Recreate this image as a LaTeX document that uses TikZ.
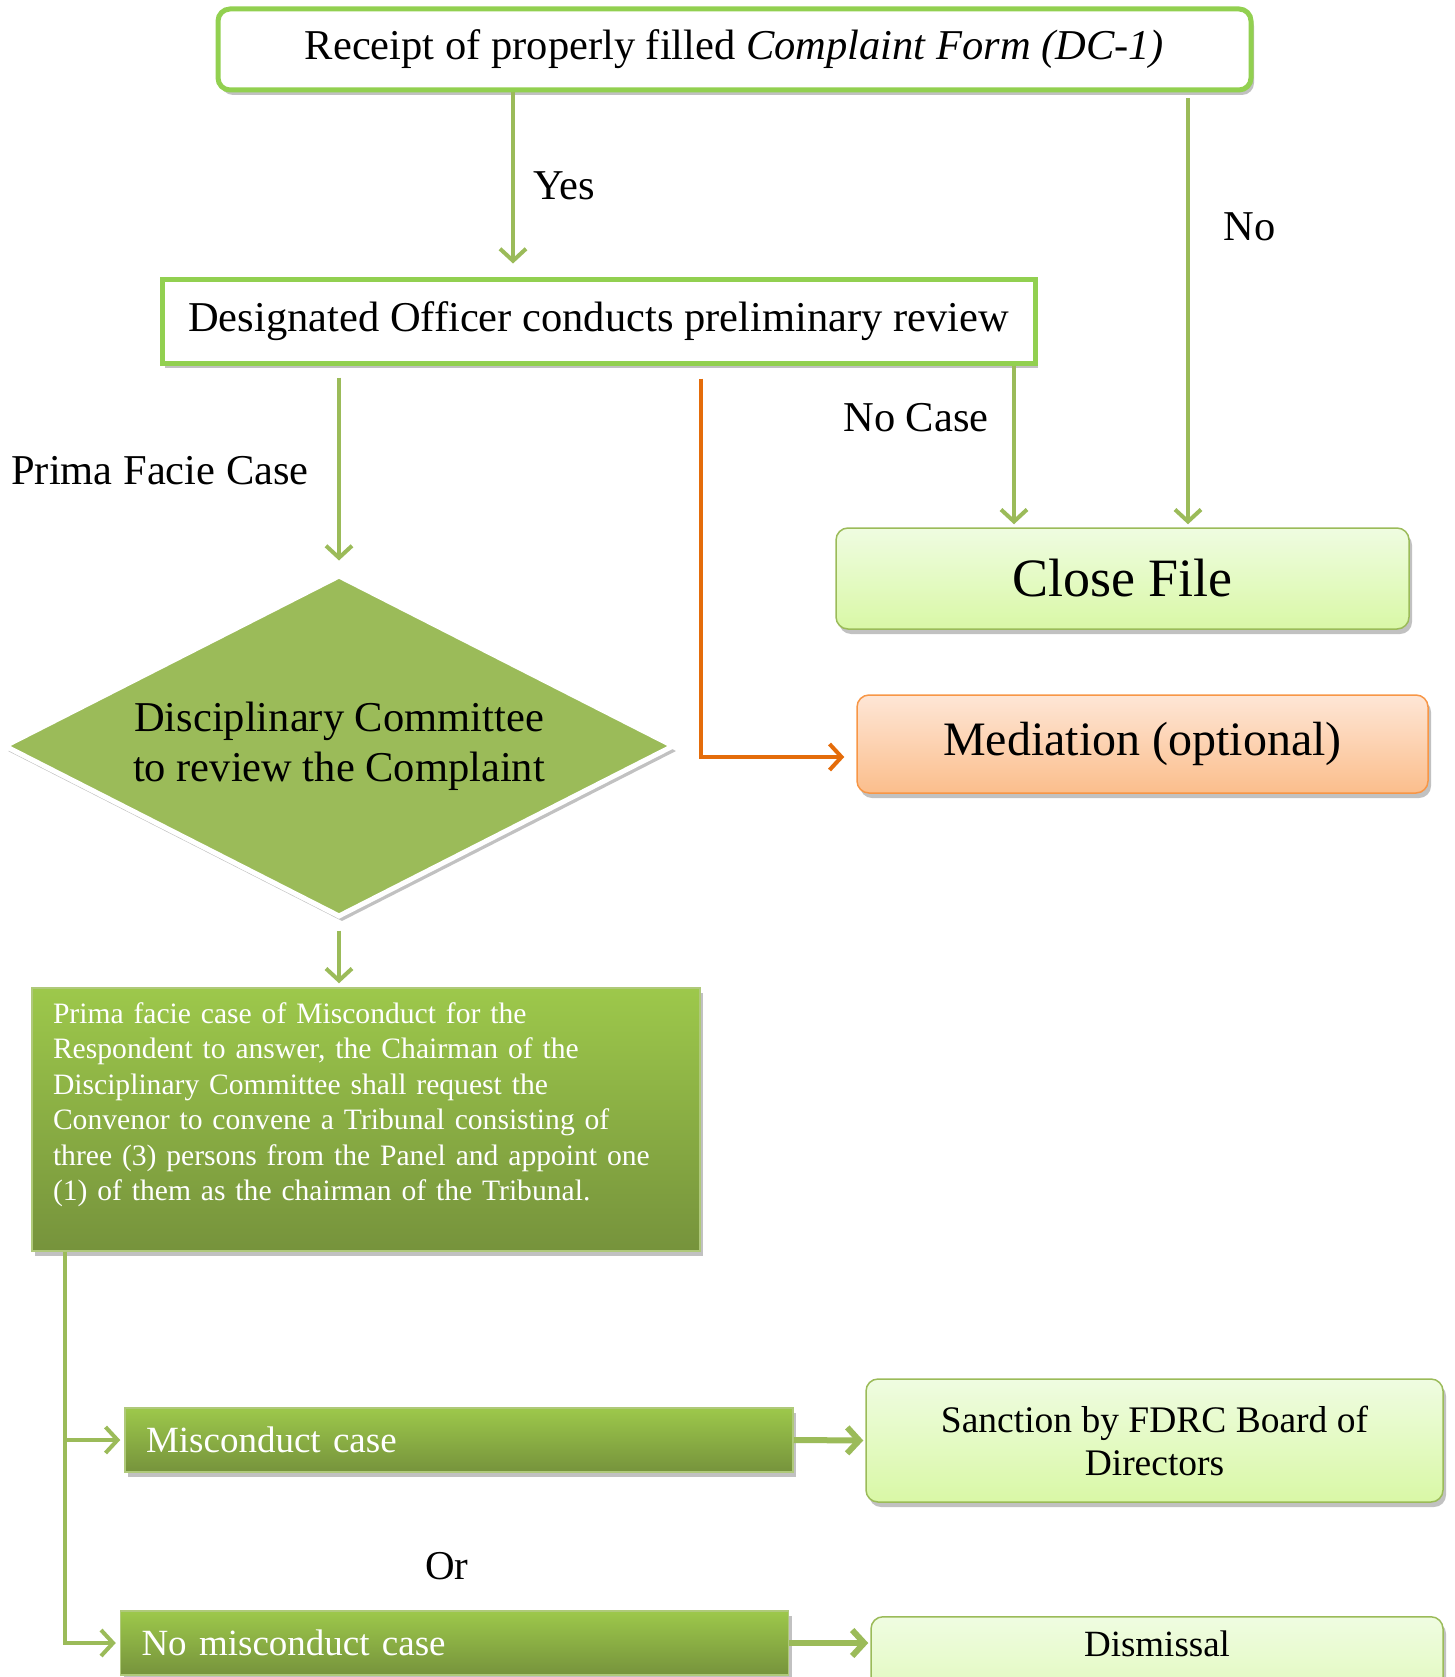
\documentclass[tikz,border=0pt]{standalone}
\usepackage{fontspec}
\setmainfont{Liberation Serif}
\usetikzlibrary{shapes.geometric,arrows.meta,shadows}
\definecolor{lgreen}{HTML}{92D050}
\definecolor{ogreen}{HTML}{9BBB59}
\definecolor{dgreen}{HTML}{76933C}
\definecolor{bgreen}{HTML}{9DC84B}
\definecolor{pale}{HTML}{EFFCE1}
\definecolor{paledk}{HTML}{D9F8A6}
\definecolor{peach}{HTML}{FEE6D6}
\definecolor{peachdk}{HTML}{FBBE8C}
\definecolor{orangeln}{HTML}{E46C0A}
\definecolor{orangebd}{HTML}{F79646}
\begin{document}
\begin{tikzpicture}[x=1pt,y=1pt,
    shad/.style={drop shadow={shadow xshift=3pt,shadow yshift=-5pt,opacity=.35,fill=black!70}},
    topbox/.style={draw=lgreen,line width=5pt,fill=white,shad,inner sep=0pt,font=\fontsize{42.5}{50}\selectfont},
    softbox/.style={draw=ogreen,line width=1.5pt,rounded corners=12pt,top color=pale,bottom color=paledk,shad,inner sep=0pt},
    barbox/.style={draw=ogreen!80,line width=1.5pt,top color=bgreen,bottom color=dgreen,text=white,shad,inner sep=0pt,align=left},
    garrow/.style={ogreen,line width=4pt,-{Straight Barb[length=12pt,width=26pt]}},
    lbl/.style={font=\fontsize{42.5}{50}\selectfont}]
    \useasboundingbox (0,0) rectangle (1454,-1677);
    % boxes
    \node[topbox,rounded corners=12pt,minimum width=1033pt,minimum height=81pt] (receipt) at (734.5,-49.5) {Receipt of properly filled \textit{Complaint Form (DC-1)}};
    \node[topbox,minimum width=873pt,minimum height=83pt] (review) at (598.5,-321.5) {Designated Officer conducts preliminary review};
    \node[softbox,minimum width=573pt,minimum height=101pt,font=\fontsize{54}{62}\selectfont] (closefile) at (1122.5,-578.5) {Close File};
    \node[softbox,draw=orangebd,top color=peach,bottom color=peachdk,minimum width=571pt,minimum height=98pt,font=\fontsize{48}{56}\selectfont] (mediation) at (1142.5,-744) {Mediation (optional)};
    \node[diamond,aspect=1.95,minimum width=670pt,minimum height=342pt,inner sep=0pt,fill=ogreen,draw=white,line width=5pt,shad,align=center,font=\fontsize{42.5}{50}\selectfont] (committee) at (339,-746) {Disciplinary Committee\\to review the Complaint};
    \node[barbox,minimum width=668pt,minimum height=263pt,text width=626pt,font=\fontsize{29.6}{35.5}\selectfont] (prima) at (366,-1119.5) {Prima facie case of Misconduct for the\\Respondent to answer, the Chairman of the\\Disciplinary Committee shall request the\\Convenor to convene a Tribunal consisting of\\three (3) persons from the Panel and appoint one\\(1) of them as the chairman of the Tribunal.\\\rule{0pt}{0pt}};
    \node[barbox,minimum width=668pt,minimum height=64pt,text width=626pt,font=\fontsize{37}{43}\selectfont] (misconduct) at (459,-1440) {Misconduct case};
    \node[barbox,minimum width=668pt,minimum height=64pt,text width=626pt,font=\fontsize{37}{43}\selectfont] (nomisconduct) at (454.5,-1643) {No misconduct case};
    \node[softbox,minimum width=577pt,minimum height=123pt,align=center,font=\fontsize{37.5}{43}\selectfont] (sanction) at (1154.5,-1440.5) {Sanction by FDRC Board of\\Directors};
    \node[softbox,anchor=north,minimum width=572pt,inner ysep=14pt,text depth=80pt,font=\fontsize{37}{43}\selectfont] (dismissal) at (1157,-1616) {Dismissal};
    % labels
    \node[lbl,anchor=west] (yes) at (530,-186) {Yes};
    \node[lbl,anchor=west] (no) at (1220,-227) {No};
    \node[lbl] (nocase) at (916,-418) {No Case};
    \node[lbl] (primafacie) at (160,-471) {Prima Facie Case};
    \node[font=\fontsize{41}{48}\selectfont] (or) at (447,-1566) {Or};
    % arrows
    \draw[garrow,shorten >=14pt] (receipt.south -| 513,0) -- (review.north -| 513,0);
    \draw[garrow,shorten <=6pt,shorten >=3pt] (receipt.south -| 1188,0) -- (closefile.north -| 1188,0);
    \draw[garrow,shorten >=3pt] (review.south -| 1014,0) -- (closefile.north -| 1014,0);
    \draw[garrow,shorten <=12pt,shorten >=12pt] (review.south -| committee.north) -- (committee.north);
    \draw[garrow,shorten <=11pt,shorten >=4pt] (committee.south) -- (prima.north -| committee.south);
    \draw[orangeln,line width=4pt,-{Straight Barb[length=12pt,width=26pt]},shorten <=13pt,shorten >=12pt] (review.south -| 701,0) |- ([yshift=-13pt]mediation.west);
    \draw[garrow,shorten >=4pt] (prima.south -| 65,0) |- (misconduct.west);
    \draw[garrow,shorten >=4pt] (prima.south -| 65,0) |- (nomisconduct.west);
    \draw[garrow,line width=6pt,shorten >=2pt] (misconduct.east) -- (sanction.west);
    \draw[garrow,line width=6pt,shorten >=2pt] (nomisconduct.east) -- (dismissal.west |- nomisconduct.east);
\end{tikzpicture}
\end{document}
